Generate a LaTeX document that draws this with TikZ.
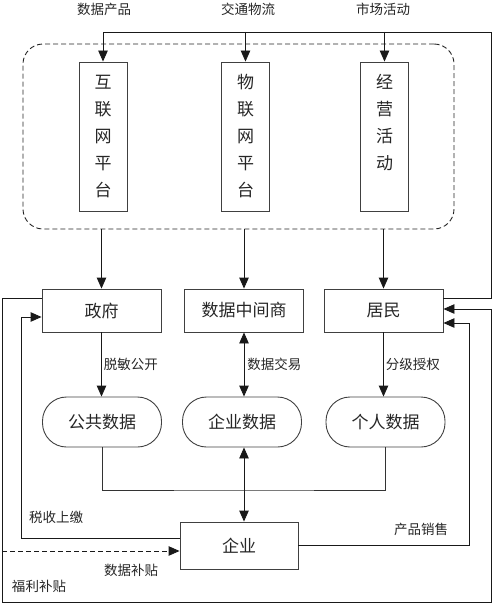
\documentclass[tikz,border=0pt]{standalone}
\usepackage{fontspec}
\setmainfont{Noto Sans CJK SC}
\usepackage{tikz}
\tikzset{
  baseline = (current bounding box.center),
}
\usetikzlibrary{arrows.meta}

\begin{document}
\begin{tikzpicture}[
    x=1pt, y=-1pt,
    line width=0.9pt,
    every node/.style={text=black!85},
    plat/.style={draw=black!75, minimum width=48pt, minimum height=149pt, inner sep=0pt, align=center, font=\fontsize{17}{27}\selectfont},
    actor/.style={draw=black!75, minimum width=119pt, minimum height=43pt, inner sep=0pt, font=\fontsize{17}{20}\selectfont},
    pool/.style={draw=black!75, rounded corners=24pt, minimum width=119pt, minimum height=50pt, inner sep=0pt, font=\fontsize{17}{20}\selectfont},
    lbl/.style={inner sep=2pt, font=\fontsize{13.5}{16}\selectfont},
    dashline/.style={dash pattern=on 5pt off 3pt},
    arr/.style={draw=black!90, -{Triangle[length=11pt,width=9.5pt]}},
    darr/.style={draw=black!90, {Triangle[length=11pt,width=9.5pt]}-{Triangle[length=11pt,width=9.5pt]}},
    ]
    \useasboundingbox (0,0) rectangle (493,604);
    \node[draw=black!85, dashline, rounded corners=20pt, minimum width=431pt, minimum height=185pt] (zone) at (238.5,136.5) {};
    \node[plat] (hulian) at (103,136.5) {互\\联\\网\\平\\台};
    \node[plat] (wulian) at (245.5,136.5) {物\\联\\网\\平\\台};
    \node[plat] (jingying) at (384.5,136.5) {经\\营\\活\\动\\\phantom{台}};
    \node[lbl] (lblA) at (104,9) {数据产品};
    \node[lbl] (lblB) at (248,9) {交通物流};
    \node[lbl] (lblC) at (383,9) {市场活动};
    \node[actor] (gov) at (101.5,310.5) {政府};
    \node[actor] (broker) at (244,310.5) {数据中间商};
    \node[actor] (res) at (383.5,310.5) {居民};
    \node[pool] (pub) at (102,422) {公共数据};
    \node[pool] (corp) at (242,422) {企业数据};
    \node[pool] (per) at (385.5,422) {个人数据};
    \node[actor, minimum width=118pt, minimum height=47pt] (ent) at (239,545.5) {企业};
    \coordinate (feed) at (491,32);
    \coordinate (frameSW) at (2,602);
    \coordinate (welfare) at (491,309);
    \coordinate (tax) at (21,317);
    \coordinate (sale) at (469,323);
    \coordinate (sub) at (2,551);
    \coordinate (join) at (244,490);
    \draw[arr] ([yshift=12.5pt]res.east) -| (feed) -| (hulian.north);
    \draw[arr] (wulian.north |- feed) -- (wulian.north);
    \draw[arr] (jingying.north |- feed) -- (jingying.north);
    \draw[arr] (zone.south -| gov.north) -- (gov.north);
    \draw[arr] (zone.south -| broker.north) -- (broker.north);
    \draw[arr] (zone.south -| res.north) -- (res.north);
    \draw[arr] (gov.south) -- (gov.south |- pub.north) node[midway, right, lbl] {脱敏公开};
    \draw[darr] (broker.south) -- (broker.south |- corp.north) node[midway, right, lbl, xshift=1pt] {数据交易};
    \draw[arr] (res.south) -- (res.south |- per.north) node[midway, right, lbl] {分级授权};
    \draw[black!80] (pub.south) |- (join) -| (per.south);
    \draw[darr] (broker.south |- corp.south) -- (broker.south |- ent.north);
    \draw[arr] ([yshift=12.5pt]gov.west) -| (frameSW) -| (welfare) -- (welfare -| res.east);
    \draw[arr] ([yshift=7.5pt]ent.west) -| (tax) -- (tax -| gov.west);
    \draw[arr] (ent.east) -| (sale) -- (sale -| res.east);
    \draw[arr, dashline] (sub) -- (sub -| ent.west);
    \node[lbl] (lblTax) at (56,517) {税收上缴};
    \node[lbl] (lblSale) at (421,529) {产品销售};
    \node[lbl] (lblData) at (131,570) {数据补贴};
    \node[lbl] (lblWelfare) at (39,586) {福利补贴};
  \end{tikzpicture}
\end{document}
